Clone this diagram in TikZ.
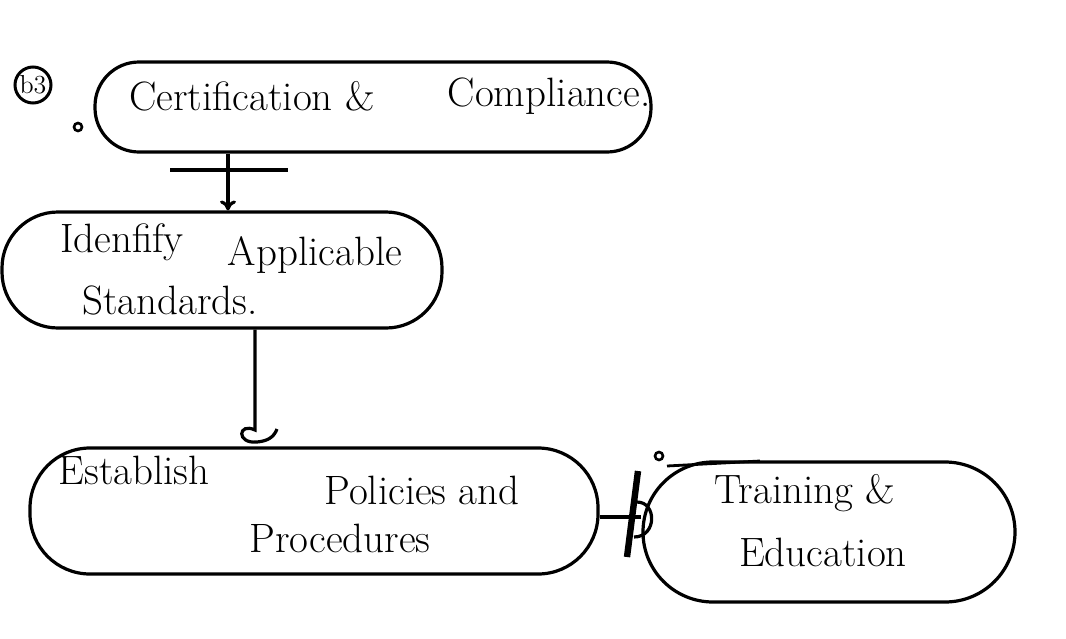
\documentclass[tikz,border=0pt]{standalone}
\usetikzlibrary{arrows.meta}
\begin{document}
\begin{tikzpicture}[x=0.5pt,y=-0.5pt,
  line width=1.6pt,
  blob/.style={draw, rectangle, inner sep=0pt, line width=1.6pt},
  txt/.style={inner sep=0pt, font=\fontsize{20.5}{24}\selectfont},
  dot/.style={draw, circle, inner sep=0pt, minimum size=4pt, line width=1.3pt},
  conn/.style={line width=1.6pt}
]
\useasboundingbox (0,0) rectangle (1066,638);
\fill[white] (0,0) rectangle (1066,638);

% shapes
\node[blob, minimum width=278pt, minimum height=45pt, rounded corners=22pt] (cert) at (373,107) {};
\node[blob, minimum width=220pt, minimum height=58pt, rounded corners=28pt] (ident) at (222,270) {};
\node[blob, minimum width=284pt, minimum height=63pt, rounded corners=30pt] (estab) at (314,511) {};
\node[blob, minimum width=186pt, minimum height=70pt, rounded corners=35pt] (train) at (829,532) {};

% texts
\node[txt] (t1) at (252,96) {Certification \&};
\node[txt] (t2) at (549,96) {Compliance.};
\node[txt] (t3) at (122,242) {Idenfify};
\node[txt] (t4) at (315,255) {Applicable};
\node[txt] (t5) at (170,300) {Standards.};
\node[txt] (t6) at (134,470) {Establish};
\node[txt] (t7) at (422,490) {Policies and};
\node[txt] (t8) at (340,538) {Procedures};
\node[txt] (t9) at (805,493) {Training \&};
\node[txt] (t10) at (823,552) {Education};

% label b3 and dots
\node[draw, circle, inner sep=0pt, minimum size=18pt, line width=1.5pt, font=\fontsize{13}{15}\selectfont] (b3) at (33,85) {b3};
\node[dot] (d1) at (78,127) {};
\node[dot] (d2) at (659,456) {};

% connector cert -> ident with bar
\coordinate (v1) at (228,0);
\coordinate (barL) at (170,170);
\coordinate (barR) at (288,170);
\draw[conn, -{To[length=5pt,width=8pt]}] (cert.south -| v1) -- (ident.north -| v1);
\draw[conn] (barL) -- (barR);

% connector ident -> estab with hook
\coordinate (v2) at (255,0);
\coordinate (h1) at (255,430);
\draw[conn] (ident.south -| v2) -- (h1)
  .. controls (238,422) and (236,444) .. (257,442)
  .. controls (268,441) and (274,437) .. (277,429);

% connector estab -> train with thick bar
\coordinate (v3) at (0,517);
\draw[conn] (estab.east |- v3) -- (train.west |- v3);
\coordinate (tb1) at (638,471);
\coordinate (tb2) at (627,557);
\draw[line width=3.2pt] (tb1) -- (tb2);
\coordinate (a1) at (637,502);
\coordinate (a2) at (634,537);
\draw[conn] (a1) .. controls (657,502) and (657,537) .. (a2);
\coordinate (s1) at (667,466);
\coordinate (s2) at (760,461);
\draw[line width=1.4pt] (s1) -- (s2);
\end{tikzpicture}
\end{document}
